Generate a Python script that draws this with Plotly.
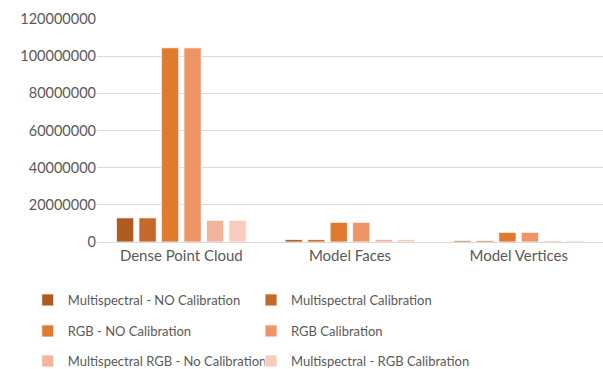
import plotly.graph_objects as go

categories = ["Dense Point Cloud", "Model Faces", "Model Vertices"]

series_names = [
    "Multispectral - NO Calibration",
    "Multispectral Calibration",
    "RGB - NO Calibration",
    "RGB Calibration",
    "Multispectral RGB - No Calibration",
    "Multispectral - RGB Calibration",
]

ms_no_cal = [13000000, 1300000, 700000]
ms_cal = [13000000, 1300000, 700000]
rgb_no_cal = [104500000, 10600000, 5200000]
rgb_cal = [104500000, 10600000, 5200000]
ms_rgb_no_cal = [11700000, 1400000, 700000]
ms_rgb_cal = [11700000, 1400000, 700000]

series_values = [ms_no_cal, ms_cal, rgb_no_cal, rgb_cal, ms_rgb_no_cal, ms_rgb_cal]

colors = ["#AE5A21", "#C5682B", "#E07A2F", "#EE9467", "#F4B49C", "#F7CCBE"]

tick_vals = [0, 20000000, 40000000, 60000000, 80000000, 100000000, 120000000]
tick_text = [str(v) for v in tick_vals]

FONT = "Lato"
GREY = "#595959"

# one legend per entry, laid out as a two-column grid in container coordinates
legend_ids = ["legend", "legend2", "legend3", "legend4", "legend5", "legend6"]
col_x = [0.046, 0.4163]
row_y = [0.187, 0.103, 0.0217]

fig = go.Figure()
for name, vals, col, lg in zip(series_names, series_values, colors, legend_ids):
    fig.add_trace(go.Bar(
        x=categories, y=vals, name=name,
        marker=dict(color=col, line=dict(color="white", width=0.8)),
        legend=lg,
    ))

legends = {}
for i, lg in enumerate(legend_ids):
    legends[lg] = dict(
        orientation="v", xref="container", yref="container",
        x=col_x[i % 2], xanchor="left",
        y=row_y[i // 2], yanchor="middle", itemwidth=30,
        font=dict(family=FONT, size=13, color=GREY),
        bgcolor="rgba(0,0,0,0)",
    )

fig.update_layout(
    width=603, height=369,
    margin=dict(l=97, r=0, t=19, b=127, autoexpand=False),
    paper_bgcolor="white", plot_bgcolor="white",
    barmode="group", bargap=0.2, bargroupgap=0.23,
    font=dict(family=FONT, size=14, color=GREY),
    showlegend=True,
    xaxis=dict(
        showgrid=False, showline=True, linecolor="#D9D9D9", linewidth=1,
        ticks="", tickfont=dict(family=FONT, size=15, color=GREY),
    ),
    yaxis=dict(
        range=[0, 120000000], tickvals=tick_vals, ticktext=tick_text,
        showgrid=True, gridcolor="#D9D9D9", gridwidth=1,
        zeroline=False, showline=False, ticks="",
        tickfont=dict(family=FONT, size=14.5, color=GREY),
    ),
    **legends,
)

fig.write_html("out.html")
